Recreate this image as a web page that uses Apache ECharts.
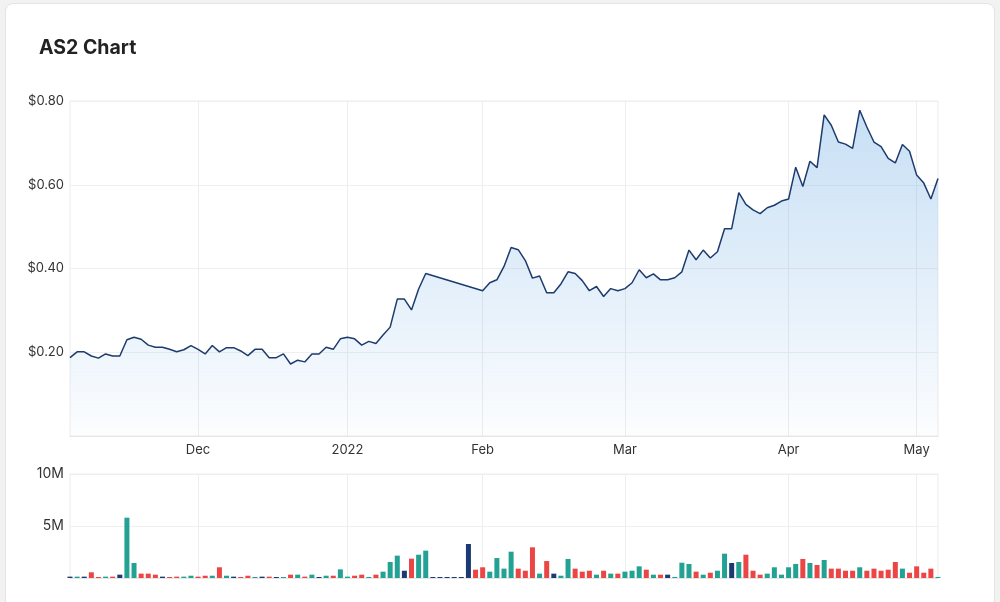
<!DOCTYPE html>
<html>
<head>
<meta charset="utf-8">
<title>AS2 Chart</title>
<script src="https://cdn.jsdelivr.net/npm/echarts@6/dist/echarts.min.js"></script>
<style>
  html, body { margin: 0; padding: 0; background: #f2f2f2; }
  #card {
    position: absolute; left: 5px; top: 3px; width: 988px; height: 610px;
    background: #fff; border: 1px solid #e4e4e4; border-radius: 8px;
  }
  #chart { position: absolute; left: 0; top: 0; width: 1000px; height: 602px; }
</style>
</head>
<body>
<div id="card"></div>
<div id="chart"></div>
<script>
// trading days Nov 5 2021 - May 5 2022 (ASX holidays removed)
var startDate = '2021-11-05';
var endDate = '2022-05-05';
var holidays = ['2021-12-27', '2021-12-28', '2022-01-03', '2022-01-26', '2022-04-15', '2022-04-18', '2022-04-25'];

// close price ($), null = trading halt
var closePrice = [
  0.187, 0.201, 0.201, 0.191, 0.186, 0.196, 0.191, 0.191, 0.230, 0.236,
  0.231, 0.217, 0.212, 0.212, 0.207, 0.201, 0.206, 0.216, 0.207, 0.196,
  0.216, 0.201, 0.211, 0.211, 0.203, 0.192, 0.207, 0.207, 0.187, 0.187,
  0.196, 0.172, 0.181, 0.177, 0.196, 0.196, 0.212, 0.207, 0.232, 0.236,
  0.232, 0.217, 0.226, 0.221, 0.241, 0.260, 0.327, 0.327, 0.301, 0.351,
  0.388, null, null, null, null, null, null, null, 0.347, 0.366,
  0.373, 0.405, 0.450, 0.445, 0.419, 0.377, 0.382, 0.342, 0.342, 0.363,
  0.392, 0.388, 0.371, 0.347, 0.357, 0.333, 0.352, 0.347, 0.352, 0.366,
  0.397, 0.378, 0.387, 0.373, 0.373, 0.378, 0.392, 0.444, 0.421, 0.444,
  0.425, 0.440, 0.495, 0.495, 0.581, 0.553, 0.540, 0.531, 0.545, 0.551,
  0.561, 0.566, 0.642, 0.596, 0.656, 0.641, 0.767, 0.742, 0.702, 0.697,
  0.687, 0.778, 0.738, 0.702, 0.691, 0.663, 0.652, 0.696, 0.680, 0.623,
  0.604, 0.566, 0.615
];

// volume in millions
var volumeM = [
  0.13, 0.13, 0.13, 0.55, 0.06, 0.13, 0.13, 0.32, 5.80, 1.44,
  0.42, 0.42, 0.32, 0.13, 0.06, 0.13, 0.13, 0.22, 0.13, 0.22,
  0.22, 1.03, 0.22, 0.13, 0.06, 0.22, 0.06, 0.13, 0.13, 0.06,
  0.06, 0.32, 0.32, 0.13, 0.32, 0.06, 0.22, 0.22, 0.83, 0.13,
  0.22, 0.32, 0.03, 0.32, 0.61, 1.54, 2.15, 0.70, 1.86, 2.24,
  2.63, 0, 0, 0, 0, 0, 3.27, 0.80, 1.03, 0.61,
  1.92, 0.90, 2.53, 0.90, 0.70, 2.95, 0.42, 1.63, 0.42, 0.22,
  1.83, 0.90, 0.61, 0.70, 0.32, 0.70, 0.42, 0.42, 0.61, 0.70,
  1.12, 0.80, 0.32, 0.32, 0.32, 0.10, 1.47, 1.35, 0.61, 0.32,
  0.51, 0.70, 2.34, 1.44, 1.54, 2.24, 0.70, 0.32, 0.42, 1.03,
  0.32, 1.03, 1.35, 1.83, 1.44, 1.25, 1.73, 0.90, 0.90, 0.70,
  0.70, 1.03, 0.70, 0.90, 0.70, 0.80, 1.54, 0.90, 0.51, 1.12,
  0.51, 0.90, 0.10
];

// day direction, 10 days per chunk: u = up, d = down, n = unchanged
var dayMove = [
  'nunddudnuu', 'dddndduudd', 'udunddundn', 'ududunuduu', 'dduduuundu',
  'unnnnnnddu', 'uuudddudnu', 'udddududuu', 'ududnuuudu', 'duunuddduu',
  'uuudududdd', 'dudddddudd', 'ddu'
].join('');

var priceTicks = ['$0.20', '$0.40', '$0.60', '$0.80'];
var volumeTicks = ['5M', '10M'];
var monthNames = ['Jan', 'Feb', 'Mar', 'Apr', 'May', 'Jun', 'Jul', 'Aug', 'Sep', 'Oct', 'Nov', 'Dec'];

function buildDays() {
  var out = [];
  var d = new Date(startDate + 'T00:00:00Z');
  var end = new Date(endDate + 'T00:00:00Z');
  while (d <= end) {
    var s = d.toISOString().slice(0, 10);
    var wd = d.getUTCDay();
    if (wd !== 0 && wd !== 6 && holidays.indexOf(s) < 0) out.push(s);
    d.setUTCDate(d.getUTCDate() + 1);
  }
  return out;
}

var days = buildDays();
var monthStart = days.map(function (s, i) {
  return i > 0 && s.slice(5, 7) !== days[i - 1].slice(5, 7);
});

function monthLabel(s) {
  var m = parseInt(s.slice(5, 7), 10);
  return m === 1 ? s.slice(0, 4) : monthNames[m - 1];
}

var moveColor = { u: '#23a193', d: '#ec4545', n: '#1b3a73' };

var chart = echarts.init(document.getElementById('chart'));
var gridLine = { show: true, interval: function (i) { return monthStart[i]; }, lineStyle: { color: '#ededed' } };

var option = {
  textStyle: { fontFamily: 'Inter' },
  animation: false,
  title: {
    text: 'AS2 Chart',
    left: 34,
    top: 33,
    textStyle: { fontFamily: 'Inter', fontSize: 19.5, fontWeight: 'bold', color: '#222' }
  },
  grid: [
    { left: 70, right: 62, top: 101, height: 335, show: true, borderColor: '#ececec', borderWidth: 1 },
    { left: 70, right: 62, top: 474, height: 104, show: true, borderColor: '#ececec', borderWidth: 1 }
  ],
  xAxis: [
    {
      type: 'category',
      gridIndex: 0,
      data: days,
      boundaryGap: false,
      axisLine: { lineStyle: { color: '#e6e6e6' } },
      axisTick: { show: false },
      axisLabel: {
        interval: function (i) { return monthStart[i]; },
        formatter: monthLabel,
        color: '#333',
        fontSize: 13,
        margin: 8
      },
      splitLine: gridLine
    },
    {
      type: 'category',
      gridIndex: 1,
      data: days,
      boundaryGap: false,
      axisLine: { lineStyle: { color: '#e6e6e6' } },
      axisTick: { show: false },
      axisLabel: { show: false },
      splitLine: gridLine
    }
  ],
  yAxis: [
    {
      type: 'value',
      gridIndex: 0,
      min: 0,
      max: 0.8,
      interval: 0.2,
      axisLine: { show: false },
      axisTick: { show: false },
      axisLabel: {
        showMinLabel: false,
        color: '#333',
        fontSize: 13,
        margin: 6,
        formatter: function (v) { return priceTicks[Math.round(v / 0.2) - 1] || ''; }
      },
      splitLine: { lineStyle: { color: '#efefef' } }
    },
    {
      type: 'value',
      gridIndex: 1,
      min: 0,
      max: 10,
      interval: 5,
      axisLine: { show: false },
      axisTick: { show: false },
      axisLabel: {
        showMinLabel: false,
        color: '#333',
        fontSize: 14,
        margin: 6,
        formatter: function (v) { return volumeTicks[Math.round(v / 5) - 1] || ''; }
      },
      splitLine: { lineStyle: { color: '#efefef' } }
    }
  ],
  series: [
    {
      name: 'Price',
      type: 'line',
      xAxisIndex: 0,
      yAxisIndex: 0,
      data: closePrice,
      connectNulls: true,
      showSymbol: false,
      lineStyle: { color: '#1d3b6c', width: 1.5 },
      areaStyle: {
        color: new echarts.graphic.LinearGradient(0, 0, 0, 1, [
          { offset: 0, color: 'rgba(110, 172, 228, 0.55)' },
          { offset: 1, color: 'rgba(110, 172, 228, 0.03)' }
        ])
      }
    },
    {
      name: 'Volume',
      type: 'bar',
      xAxisIndex: 1,
      yAxisIndex: 1,
      barWidth: 5,
      barMinHeight: 1,
      data: volumeM.map(function (v, i) {
        return { value: v, itemStyle: { color: moveColor[dayMove.charAt(i)] || moveColor.n } };
      })
    }
  ]
};

chart.setOption(option);
window.addEventListener('resize', function () { chart.resize(); });
</script>
</body>
</html>
